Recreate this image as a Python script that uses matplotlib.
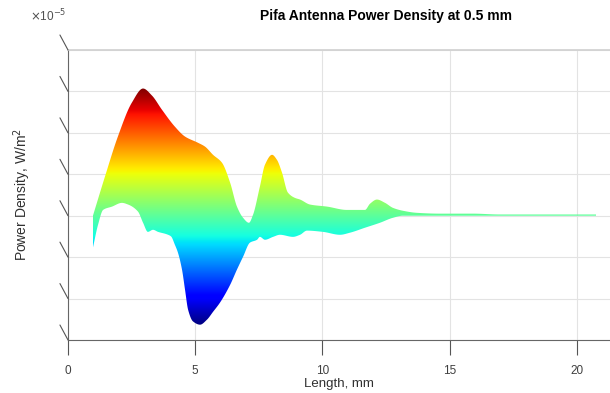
import numpy as np
import matplotlib.pyplot as plt
from matplotlib.patches import Polygon

plt.rcParams['font.family'] = ['Liberation Sans', 'DejaVu Sans']

# Power density envelope, in units of 1e-5 W/m^2
upper_x = [0.98, 1.45, 1.96, 2.51, 2.95, 3.30, 3.69, 4.20, 4.60, 5.11, 5.38, 5.70,
           6.05, 6.37, 6.64, 6.88, 7.11, 7.27, 7.54, 7.74, 8.02, 8.21, 8.41, 8.64,
           8.92, 9.12, 9.51, 10.18, 10.96, 11.67, 11.87, 12.14, 12.46, 12.77, 13.16,
           13.71, 14.62, 15.91, 16.97, 20.75]
upper_y = [0.00, 0.94, 1.91, 2.73, 3.07, 2.90, 2.56, 2.15, 1.91, 1.76, 1.67, 1.47,
           1.28, 0.80, 0.22, -0.05, -0.17, 0.02, 0.70, 1.23, 1.47, 1.35, 1.04, 0.56,
           0.43, 0.39, 0.27, 0.22, 0.14, 0.14, 0.29, 0.39, 0.31, 0.19, 0.12,
           0.07, 0.05, 0.05, 0.03, 0.03]
lower_x = [0.98, 1.18, 1.38, 1.73, 2.12, 2.36, 2.75, 2.95, 3.14, 3.34, 3.54, 3.89,
           4.05, 4.20, 4.32, 4.48, 4.60, 4.72, 4.91, 5.19, 5.46, 5.70, 5.97, 6.37, 6.64,
           6.88, 7.15, 7.43, 7.54, 7.74, 8.06, 8.33, 8.84, 9.12, 9.39, 10.02, 10.69,
           11.08, 11.67, 12.26, 12.77, 13.16, 14.62, 20.75]
lower_y = [-0.77, -0.22, 0.14, 0.22, 0.31, 0.27, 0.10, -0.17, -0.39, -0.34, -0.39, -0.45,
           -0.50, -0.70, -0.89, -1.30, -1.79, -2.27, -2.55, -2.63, -2.51, -2.32, -2.10, -1.67, -1.30,
           -0.99, -0.65, -0.58, -0.51, -0.58, -0.51, -0.46, -0.51, -0.46, -0.36, -0.39, -0.46,
           -0.41, -0.29, -0.17, -0.05, 0.00, 0.00, 0.00]

xticks = [0, 5, 10, 15, 20]
yticks = [-3, -2, -1, 0, 1, 2, 3, 4]


def pchip(x, y, xn):
    # shape-preserving cubic, only to draw a smooth outline through the read points
    x = np.asarray(x, float)
    y = np.asarray(y, float)
    h = np.diff(x)
    d = np.diff(y) / h
    m = np.zeros_like(y)
    m[0], m[-1] = d[0], d[-1]
    for k in range(1, len(x) - 1):
        if d[k-1] * d[k] > 0:
            w1 = 2*h[k] + h[k-1]
            w2 = h[k] + 2*h[k-1]
            m[k] = (w1 + w2) / (w1/d[k-1] + w2/d[k])
    i = np.clip(np.searchsorted(x, xn) - 1, 0, len(x) - 2)
    t = (xn - x[i]) / h[i]
    h00 = 2*t**3 - 3*t**2 + 1
    h10 = t**3 - 2*t**2 + t
    h01 = -2*t**3 + 3*t**2
    h11 = t**3 - t**2
    return h00*y[i] + h10*h[i]*m[i] + h01*y[i+1] + h11*h[i]*m[i+1]


xs = np.linspace(min(upper_x), max(upper_x), 1500)
up = pchip(upper_x, upper_y, xs)
lo = pchip(lower_x, lower_y, xs)

fig = plt.figure(figsize=(6.1, 3.93), dpi=100)
ax = fig.add_axes([68/610, 53/393, 542/610, 290/393])

vmin, vmax = min(lower_y), max(upper_y)
grad = np.linspace(vmin, vmax, 512).reshape(-1, 1)
img = ax.imshow(grad, extent=[xs[0], xs[-1], vmin, vmax], origin='lower',
                aspect='auto', cmap='jet', interpolation='bilinear', zorder=2)
poly = np.vstack([np.column_stack([xs, up]), np.column_stack([xs, lo])[::-1]])
patch = Polygon(poly, closed=True, facecolor='none', edgecolor='none')
ax.add_patch(patch)
img.set_clip_path(patch)

ax.set_xlim(0, 21.3)
ax.set_ylim(-3, 4)
ax.set_xticks(xticks)
ax.set_yticks(yticks)
ax.set_yticklabels([])
ax.tick_params(axis='y', length=0)
ax.tick_params(axis='x', direction='out', length=11, width=0.8, color='#555555',
               labelsize=8.5, labelcolor='#404040', pad=7)
ax.grid(True, color='#e3e3e3', lw=0.8, zorder=0)
ax.set_axisbelow(True)

ax.spines['right'].set_visible(False)
ax.spines['top'].set_color('#d0d0d0')
ax.spines['top'].set_linewidth(1.2)
ax.spines['left'].set_color('#666666')
ax.spines['bottom'].set_color('#666666')

# slanted y ticks from the 3-D view
for t in yticks:
    ax.annotate('', xy=(0, t), xycoords=('axes fraction', 'data'),
                xytext=(-5.8, 10.8), textcoords='offset points',
                arrowprops=dict(arrowstyle='-', color='#555555', lw=0.8,
                                shrinkA=0, shrinkB=0),
                annotation_clip=False)

ax.set_xlabel('Length, mm', fontsize=9.5, color='#303030', labelpad=1)
fig.text(22/610, 1 - 194/393, 'Power Density, W/m$^2$', rotation=90, fontsize=10,
         color='#303030', ha='center', va='center')
fig.text(30/610, 1 - 16/393, r'$\times$10$^{-5}$', fontsize=8.5, color='#505050',
         ha='left', va='center')
fig.text(386/610, 1 - 16/393, 'Pifa Antenna Power Density at 0.5 mm', fontsize=10,
         fontweight='bold', ha='center', va='center')

fig.savefig('out.png', dpi=100)
